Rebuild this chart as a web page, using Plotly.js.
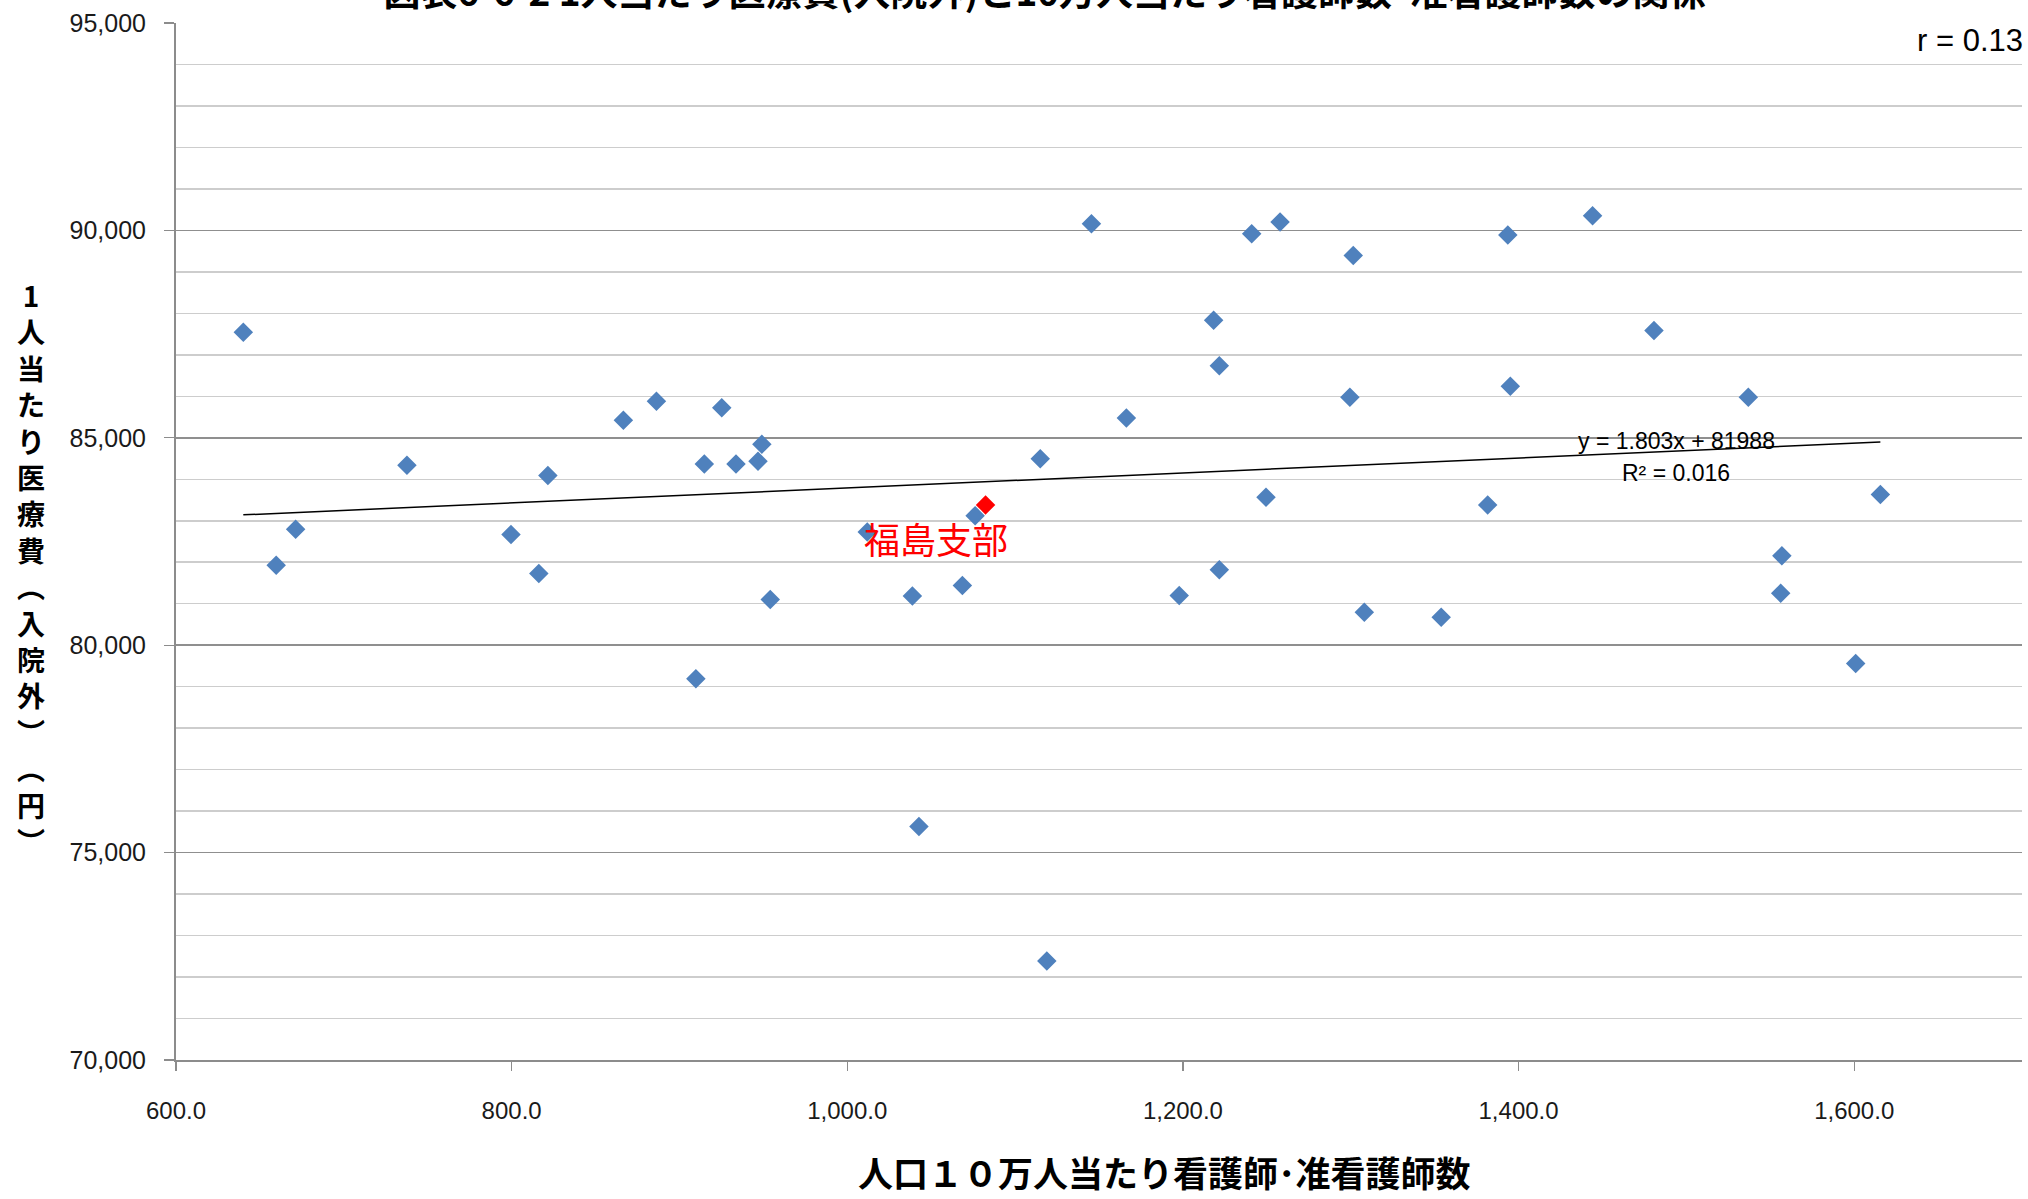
<!DOCTYPE html>
<html>
<head>
<meta charset="utf-8">
<script src="https://cdn.plot.ly/plotly-3.0.1.min.js"></script>
<style>
  html, body { margin: 0; padding: 0; background: #ffffff; }
  #chart { width: 2028px; height: 1199px; }
</style>
</head>
<body>
<div id="chart"></div>
<script>
// ---- Data ----
const nursesPer100k = [
  640.1, 659.7, 671.3, 737.6, 799.6, 816.2, 821.6, 866.6, 886.3, 909.8,
  914.8, 925.2, 933.7, 946.8, 949.1, 954.1, 1011.9, 1038.8, 1042.7, 1068.6,
  1076.2, 1115.0, 1118.9, 1145.5, 1166.3, 1197.8, 1218.3, 1221.7, 1221.7, 1241.0,
  1249.5, 1257.9, 1299.5, 1301.5, 1308.1, 1353.9, 1381.6, 1393.6, 1395.1, 1444.1,
  1480.7, 1536.9, 1556.9, 1556.2, 1600.9, 1615.6
];
const outpatientCostPerPerson = [
  87544, 81927, 82796, 84336, 82668, 81727, 84090, 85421, 85879, 79189,
  84370, 85726, 84370, 84433, 84844, 81100, 82731, 81188, 75630, 81437,
  83123, 84492, 72385, 90162, 85480, 81197, 87834, 86739, 81817, 89922,
  83566, 90203, 85976, 89392, 80795, 80673, 83382, 89891, 86241, 90355,
  87584, 85976, 82154, 81253, 79557, 83632
];
const fukushimaNurses = [1082.4];
const fukushimaCost = [83382];
const fukushimaLabel = "福島支部";

const trendSlope = 1.803;
const trendIntercept = 81988;
const trendEquationText = "y = 1.803x + 81988";
const rSquaredText = "R² = 0.016";
const correlationText = "r = 0.13";

const chartTitle = "図表6-6-2 1人当たり医療費(入院外)と10万人当たり看護師数･准看護師数の関係";
const xAxisTitle = "人口１０万人当たり看護師･准看護師数";
const yAxisTitleChars = ["1","人","当","た","り","医","療","費","︵","入","院","外","︶","︵","円","︶"];

// ---- Traces ----
const allX = nursesPer100k.concat(fukushimaNurses);
const trendX = [Math.min(...allX), Math.max(...allX)];
const trendY = trendX.map(v => trendSlope * v + trendIntercept);

const traces = [
  {
    type: "scatter", mode: "lines",
    x: trendX, y: trendY,
    line: { color: "#000000", width: 1.5 },
    hoverinfo: "skip"
  },
  {
    type: "scatter", mode: "markers",
    x: nursesPer100k, y: outpatientCostPerPerson,
    marker: { symbol: "diamond", size: 15, color: "#4F81BD", line: { width: 0 } }
  },
  {
    type: "scatter", mode: "markers",
    x: fukushimaNurses, y: fukushimaCost,
    marker: { symbol: "diamond", size: 15, color: "#FF0000", line: { width: 0 } }
  }
];

// ---- Layout ----
const W = 2028, H = 1199;
const M = { l: 176, r: 6, t: 23, b: 139 };
const plotW = W - M.l - M.r, plotH = H - M.t - M.b;
const px2paperX = px => (px - M.l) / plotW;
const px2paperY = py => 1 - (py - M.t) / plotH;

const cjk = "'Noto Sans CJK JP', 'Noto Sans', sans-serif";
const latin = "'Liberation Sans', Arial, sans-serif";

const annotations = [
  {
    xref: "paper", yref: "paper",
    x: px2paperX(31), y: px2paperY(568),
    xanchor: "center", yanchor: "middle",
    text: "<b>" + yAxisTitleChars.join("<br>") + "</b>", showarrow: false,
    align: "center", borderpad: 0,
    font: { family: cjk, size: 28, color: "#000000" }
  },
  {
    xref: "paper", yref: "paper",
    x: px2paperX(1164), y: px2paperY(1171),
    xanchor: "center", yanchor: "middle",
    text: "<b>" + xAxisTitle + "</b>", showarrow: false, borderpad: 0,
    font: { family: cjk, size: 35, color: "#000000" }
  },
  {
    xref: "x", yref: "y",
    x: 1494, y: 84933,
    xanchor: "center", yanchor: "middle",
    text: trendEquationText, showarrow: false,
    font: { family: latin, size: 23, color: "#000000" }
  },
  {
    xref: "x", yref: "y",
    x: 1494, y: 84162,
    xanchor: "center", yanchor: "middle",
    text: rSquaredText, showarrow: false,
    font: { family: latin, size: 23, color: "#000000" }
  },
  {
    xref: "paper", yref: "paper",
    x: px2paperX(2025), y: px2paperY(41),
    xanchor: "right", yanchor: "middle",
    text: correlationText, showarrow: false,
    font: { family: latin, size: 31, color: "#000000" }
  },
  {
    xref: "x", yref: "y",
    x: 1052.9, y: 82595,
    xanchor: "center", yanchor: "middle",
    text: fukushimaLabel, showarrow: false,
    font: { family: cjk, size: 36, color: "#FF0000" }
  }
];

const layout = {
  width: W, height: H,
  margin: { l: M.l, r: M.r, t: M.t, b: M.b, pad: 0 },
  paper_bgcolor: "#ffffff", plot_bgcolor: "#ffffff",
  showlegend: false,
  font: { family: latin, color: "#1a1a1a" },
  title: {
    text: "<b>" + chartTitle + "</b>",
    font: { family: cjk, size: 37, color: "#000000" },
    xref: "container", x: 1045 / W, xanchor: "center",
    yref: "container", y: 1 - 6 / H, yanchor: "bottom"
  },
  xaxis: {
    range: [600, 1700], tick0: 600, dtick: 200, tickformat: ",.1f",
    ticks: "outside", ticklen: 9, tickwidth: 1.3, tickcolor: "#8c8c8c",
    showline: true, linecolor: "#8c8c8c", linewidth: 2,
    showgrid: false, zeroline: false,
    tickfont: { family: latin, size: 24, color: "#1a1a1a" },
    ticklabelstandoff: 19
  },
  yaxis: {
    range: [70000, 95000], tick0: 70000, dtick: 5000, tickformat: ",d",
    ticks: "outside", ticklen: 10, tickwidth: 1.3, tickcolor: "#8c8c8c",
    showline: true, linecolor: "#8c8c8c", linewidth: 2,
    showgrid: true, gridcolor: "#8f8f8f", gridwidth: 1.5,
    zeroline: false,
    minor: { tick0: 70000, dtick: 1000, showgrid: true, gridcolor: "#cdcdcd", gridwidth: 1.5, ticks: "" },
    tickfont: { family: latin, size: 25, color: "#1a1a1a" },
    ticklabelstandoff: 13
  },
  annotations: annotations
};

Plotly.newPlot("chart", traces, layout, { staticPlot: true, displayModeBar: false });
</script>
</body>
</html>
